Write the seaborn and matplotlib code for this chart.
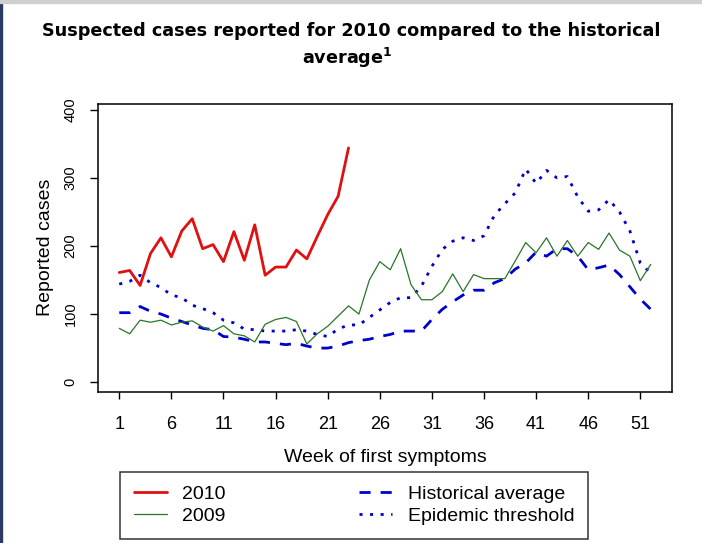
import numpy as np
import pandas as pd
import seaborn as sns
import matplotlib
matplotlib.use("Agg")
from matplotlib import pyplot as plt
from matplotlib.lines import Line2D
from matplotlib.patches import Rectangle

sns.set_style("white")
plt.rcParams['font.family'] = ['Liberation Sans', 'DejaVu Sans']
plt.rcParams['mathtext.fontset'] = 'dejavusans'
plt.rcParams['text.color'] = 'black'
plt.rcParams['axes.labelcolor'] = 'black'

"""
Values read off the reference chart
"""
weeks = list(range(1, 53))
weeks_2010 = list(range(1, 24))
cases_2010 = [161, 164, 142, 189, 212, 184, 222, 240, 196, 202, 177, 221, 179,
              231, 157, 169, 169, 194, 181, 214, 246, 273, 344]
cases_2009 = [79, 71, 91, 88, 91, 84, 88, 90, 81, 75, 83, 71, 68, 59, 85, 92,
              95, 89, 56, 71, 82, 97, 112, 100, 150, 177, 165, 196, 143, 121,
              121, 133, 159, 133, 158, 152, 152, 152, 178, 205, 190, 212, 185,
              208, 185, 205, 195, 219, 194, 185, 149, 173]
hist_avg = [102, 102, 111, 104, 100, 94, 89, 84, 79, 77, 67, 66, 63, 59, 59,
            57, 55, 57, 53, 50, 50, 53, 58, 61, 63, 67, 70, 75, 75, 75, 92,
            107, 118, 128, 135, 135, 146, 152, 166, 175, 191, 185, 196, 196,
            185, 165, 168, 172, 158, 140, 122, 107]
epi_threshold = [144, 148, 157, 146, 139, 128, 124, 113, 108, 102, 91, 87, 78,
                 77, 75, 75, 75, 77, 75, 70, 67, 78, 84, 84, 95, 106, 117, 124,
                 124, 141, 170, 195, 207, 212, 208, 215, 245, 262, 278, 313,
                 292, 311, 300, 302, 272, 251, 253, 268, 250, 222, 175, 160]
x_ticks = list(range(1, 52, 5))
y_ticks = [0, 100, 200, 300, 400]

df_2010 = pd.DataFrame({"week": weeks_2010, "cases": cases_2010})
df_year = pd.DataFrame({"week": weeks, "c2009": cases_2009,
                        "hist": hist_avg, "epi": epi_threshold})

RED = "#e01010"
GREEN = "#2a742a"
BLUE = "#0000cd"
DASHED = (0, (4.0, 3.6))
DOTTED = (0, (1.1, 2.7))

W, H = 702, 543
fig = plt.figure(figsize=(W / 100, H / 100), dpi=100)
ax = fig.add_axes([98 / W, 1 - 392 / H, (672 - 98) / W, (392 - 104) / H])

sns.lineplot(data=df_year, x="week", y="hist", ax=ax, color=BLUE,
             linewidth=2.0, linestyle=DASHED)
sns.lineplot(data=df_year, x="week", y="epi", ax=ax, color=BLUE,
             linewidth=2.0, linestyle=DOTTED)
sns.lineplot(data=df_year, x="week", y="c2009", ax=ax, color=GREEN,
             linewidth=0.9)
sns.lineplot(data=df_2010, x="week", y="cases", ax=ax, color=RED,
             linewidth=2.0)

ax.set_xlim(-1.04, 54.04)
ax.set_ylim(-14.5, 408.5)
ax.set_xticks(x_ticks)
ax.set_yticks(y_ticks)
ax.tick_params(axis="x", direction="out", length=5.2, width=1.0,
               labelsize=13, pad=12, bottom=True, colors="black")
ax.tick_params(axis="y", direction="out", length=5.8, width=1.0,
               labelsize=10.5, pad=9, left=True, colors="black")
for lab in ax.get_yticklabels():
    lab.set_rotation(90)
    lab.set_va("center")
for sp in ax.spines.values():
    sp.set_visible(True)
    sp.set_color("black")
    sp.set_linewidth(1.1)

ax.set_xlabel("")
ax.set_ylabel("")
fig.text(385 / W, 1 - 457 / H, "Week of first symptoms", fontsize=14,
         ha="center", va="center")
fig.text(46 / W, 1 - 247 / H, "Reported cases", fontsize=14, rotation=90,
         ha="center", va="center")

# title
fig.text(351 / W, 1 - 31 / H,
         "Suspected cases reported for 2010 compared to the historical",
         fontsize=12.7, fontweight="bold", family="DejaVu Sans",
         color="black", ha="center", va="center")
fig.text(347 / W, 1 - 58 / H, r"average$^{\mathbf{1}}$",
         fontsize=12.7, fontweight="bold", family="DejaVu Sans",
         color="black", ha="center", va="center")

handles = [Line2D([], [], color=RED, linewidth=2.0),
           Line2D([], [], color=GREEN, linewidth=0.9),
           Line2D([], [], color=BLUE, linewidth=2.0, linestyle=DASHED),
           Line2D([], [], color=BLUE, linewidth=2.0, linestyle=DOTTED)]
labels = ["2010", "2009", "Historical average", "Epidemic threshold"]
leg = fig.legend(handles, labels, ncol=2, loc="upper left",
                 bbox_to_anchor=(120 / W, 1 - 472 / H), fontsize=14,
                 frameon=True, fancybox=False, edgecolor="black",
                 handlelength=1.7, handletextpad=0.8, columnspacing=6.85,
                 labelspacing=0.22, borderpad=0.7, borderaxespad=0)
leg.get_frame().set_linewidth(1.1)

# page border bits
fig.patches.append(Rectangle((0, 0), 2 / W, 1 - 3 / H, transform=fig.transFigure,
                             color="#2a3a60", zorder=0))
fig.patches.append(Rectangle((0, 1 - 2.5 / H), 1, 2.5 / H,
                             transform=fig.transFigure, color="#cfcfcf", zorder=0))

fig.savefig("out.png", dpi=100)
